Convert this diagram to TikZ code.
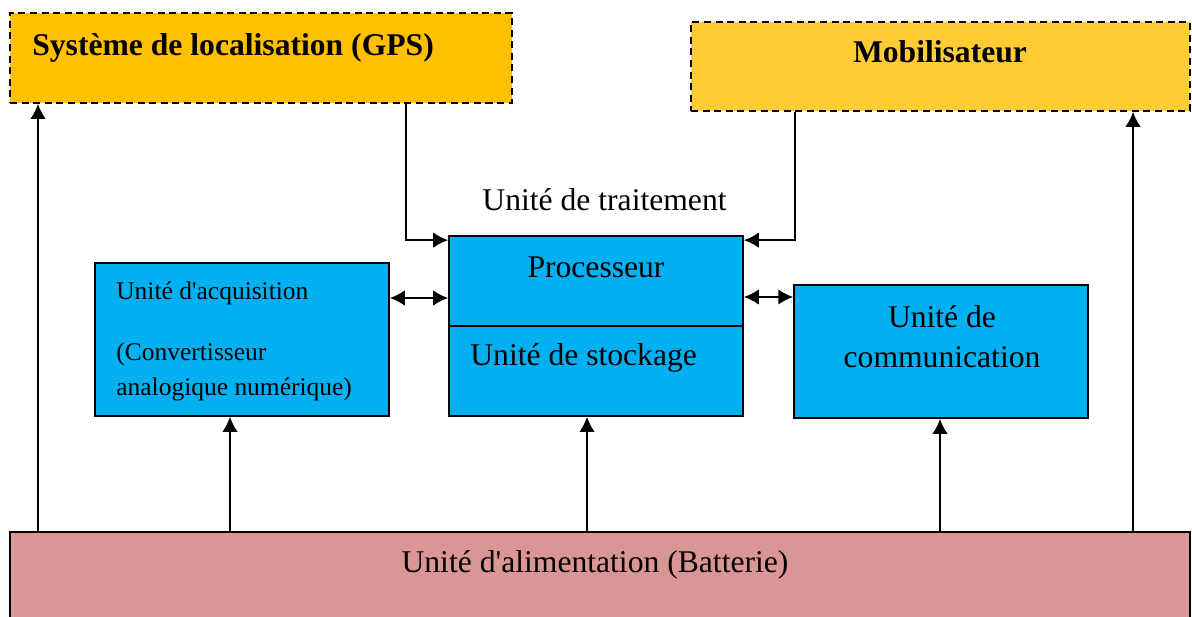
\documentclass[tikz,border=0pt]{standalone}
\usepackage{fontspec}
\setmainfont{Liberation Serif}
\usetikzlibrary{arrows.meta}
\definecolor{gpsorange}{HTML}{FFC000}
\definecolor{mobyellow}{HTML}{FFCD33}
\definecolor{unitblue}{HTML}{00B0F0}
\definecolor{battred}{HTML}{D99694}

\begin{document}
\begin{tikzpicture}[x=0.02cm,y=-0.02cm,
		box/.style={draw,line width=0.9pt,inner sep=0pt},
		dashbox/.style={box,dash pattern=on 4pt off 2.6pt},
		lbl/.style={inner sep=0pt,font=\fontsize{18}{22.7}\selectfont},
		smalllbl/.style={inner sep=0pt,font=\fontsize{14.5}{19.8}\selectfont},
		link/.style={line width=1.2pt},
		>={Latex[length=3mm,width=3.1mm]}]
	\useasboundingbox (0,0) rectangle (1192,616);
	% boxes
	\node[dashbox,fill=gpsorange,minimum width=10.04cm,minimum height=1.8cm] (gps) at (261,58) {};
	\node[dashbox,fill=mobyellow,minimum width=9.98cm,minimum height=1.78cm] (mob) at (940.5,66.5) {};
	\node[box,fill=unitblue,minimum width=5.88cm,minimum height=3.6cm] (proc) at (596,326) {};
	\draw[line width=0.9pt] (proc.west) -- (proc.east);
	\node[box,fill=unitblue,minimum width=5.88cm,minimum height=3.06cm] (acq) at (242,339.5) {};
	\node[box,fill=unitblue,minimum width=5.88cm,minimum height=2.66cm] (comm) at (941,351.5) {};
	\node[box,fill=battred,minimum width=23.6cm,minimum height=2.56cm] (batt) at (600,596) {};
	% texts (base of a multi-line node = last line)
	\node[lbl,anchor=base west] (gpslbl) at (32,55) {\bfseries Système de localisation (GPS)};
	\node[lbl,anchor=base] (moblbl) at (940,62) {\bfseries Mobilisateur};
	\node[lbl,anchor=base] (traitlbl) at (604.5,210) {Unité de traitement};
	\node[lbl,anchor=base] (proclbl) at (596,277) {Processeur};
	\node[lbl,anchor=base west] (stocklbl) at (470,365) {Unité de stockage};
	\node[smalllbl,anchor=base west,align=left] (acqlbl) at (116,395)
		{Unité d\textquotesingle acquisition\\[15pt](Convertisseur\\analogique numérique)};
	\node[lbl,anchor=base,align=center] (commlbl) at (942,367) {Unité de\\communication};
	\node[lbl,anchor=base] (battlbl) at (595,572) {Unité d\textquotesingle alimentation (Batterie)};
	% power lines
	\foreach \px/\dst in {38/gps,230/acq,587/proc,940/comm,1133/mob}
		\draw[link,->] (batt.north -| \px,0) -- (\dst.south -| \px,0);
	% inputs to the processor
	\draw[link,->] (gps.south -| 406,0) |- ([yshift=-2.8pt]proc.north west);
	\draw[link,->] (mob.south -| 795,0) |- ([yshift=-2.8pt]proc.north east);
	\draw[link,<->] (acq.east |- 0,298) -- (proc.west |- 0,298);
	\draw[link,<->] (proc.east |- 0,297) -- (comm.west |- 0,297);
\end{tikzpicture}
\end{document}
